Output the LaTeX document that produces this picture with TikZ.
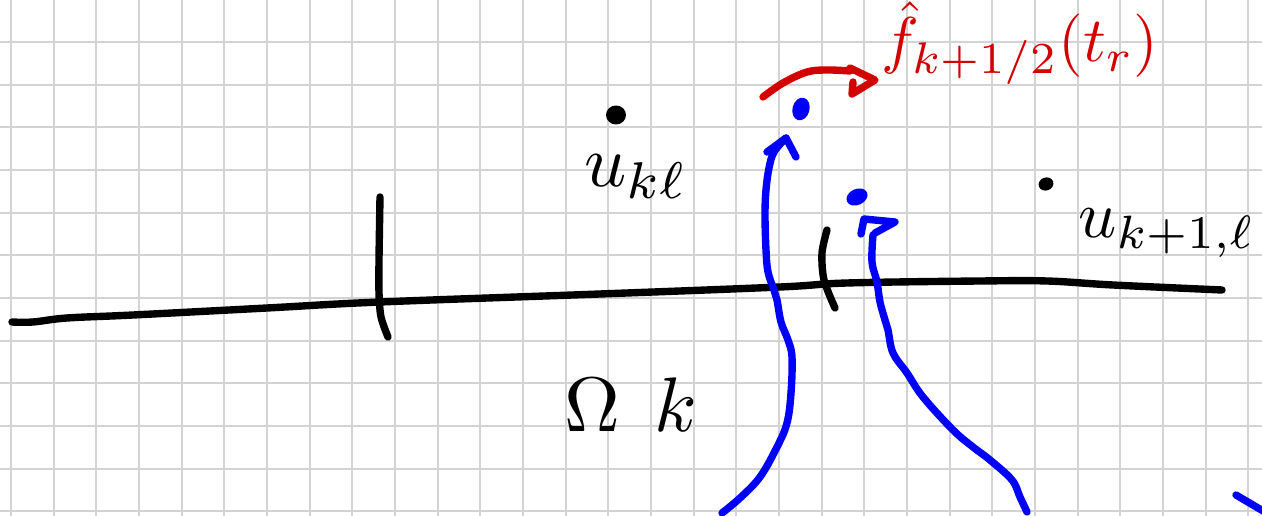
\documentclass[tikz,border=0pt]{standalone}
\usepackage{graphicx}
\usetikzlibrary{shapes.geometric}
\definecolor{gridgray}{RGB}{211,211,211}
\definecolor{inkblue}{RGB}{0,0,250}
\definecolor{inkred}{RGB}{210,0,0}
\begin{document}
\begin{tikzpicture}[x=0.02cm,y=-0.02cm,
  gridline/.style={gridgray,line width=1.1pt},
  ink/.style={line width=4.2pt,line cap=round,line join=round},
  blackink/.style={ink,black},
  blueink/.style={ink,inkblue},
  redink/.style={ink,inkred},
  blackdot/.style={ellipse,fill=black,inner sep=0pt},
  bluedot/.style={ellipse,fill=inkblue,inner sep=0pt},
  hand/.style={anchor=base west,inner sep=0pt}
]
\useasboundingbox (0,0) rectangle (1262,516);
\fill[white] (0,0) rectangle (1262,516);
% grid
\begin{scope}
\clip (0,0) rectangle (1262,516);
\foreach \i in {0,...,29} \draw[gridline] ({11+42.67*\i},0) -- ({11+42.67*\i},516);
\foreach \j in {1,...,12} \draw[gridline] (0,{-0.67+42.67*\j}) -- (1262,{-0.67+42.67*\j});
\end{scope}
% axis line and ticks
\draw[blackink] plot[smooth,tension=0.6] coordinates {(12,322) (33,322) (67,318) (133,315) (267,308) (380,302) (600,294) (780,287) (847,283) (980,281) (1047,281) (1113,285) (1222,290)};
\draw[blackink] plot[smooth] coordinates {(380,197) (379,260) (379,293) (381,317) (388,337)};
\draw[blackink] plot[smooth] coordinates {(827,230) (822,253) (824,280) (835,308)};
% dots
\node[blackdot,minimum width=0.4cm,minimum height=0.38cm] (d1) at (616,115) {};
\node[blackdot,minimum width=0.3cm,minimum height=0.26cm,rotate=20] (d2) at (1046,184) {};
\node[bluedot,minimum width=0.34cm,minimum height=0.46cm,rotate=-15] (b1) at (801,109) {};
\node[bluedot,minimum width=0.44cm,minimum height=0.32cm,rotate=25] (b2) at (857,197) {};
% labels
\node[hand,scale=4.2] (ukl) at (583,187) {$u_{k\ell}$};
\node[hand,scale=3.8] (ukpl) at (1077,238) {$u_{k+1,\ell}$};
\node[hand,scale=4.4] (omk) at (563,432) {$\Omega\,\;k$};
\node[hand,scale=3.6,text=inkred] (fhat) at (880,62) {$\hat{f}_{k+1/2}(t_r)$};
% blue arrows
\draw[blueink] plot[smooth,tension=0.6] coordinates {(722,513) (740,498) (760,477) (777,447) (787,423) (791,393) (792,357) (788,340) (781,322) (777,300) (774,290) (768,272) (766,250) (765,215) (766,190) (769,168) (774,152) (786,138)};
\draw[blueink] (767,152) -- (786,138) -- (796,157);
\draw[blueink] plot[smooth,tension=0.6] coordinates {(1027,512) (1020,497) (1012,480) (990,460) (973,447) (953,430) (923,397) (907,373) (893,353) (888,330) (885,320) (880,302) (877,282) (872,262) (873,235)};
\draw[blueink] (861,234) -- (864,219) -- (895,222) -- (875,233);
\draw[blueink] (1236,495) -- (1275,518);
% red arrow
\draw[redink] plot[smooth,tension=0.6] coordinates {(763,97) (783,83) (807,72) (827,70) (850,71)};
\draw[redink] (850,68) -- (875,80) -- (852,94) -- (853,82);
\end{tikzpicture}
\end{document}
